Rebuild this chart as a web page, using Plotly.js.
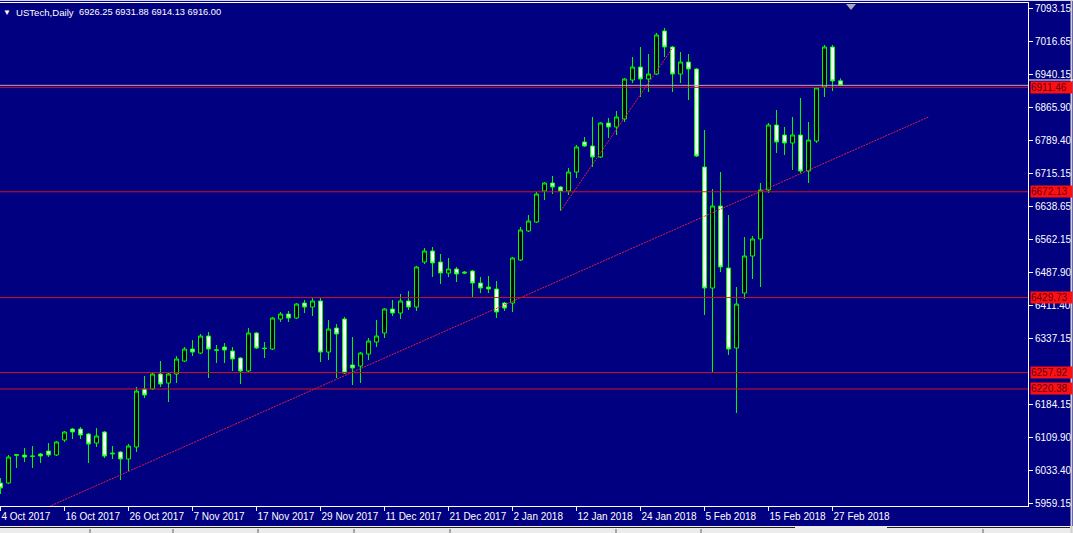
<!DOCTYPE html>
<html><head><meta charset="utf-8">
<script src="https://cdn.plot.ly/plotly-3.0.1.min.js"></script>
<style>html,body{margin:0;padding:0;background:#000080;overflow:hidden}</style>
</head><body><div id="chart" style="width:1073px;height:533px"></div>
<script>
const symbolTitle = 'USTech,Daily';
const lastQuote = ['6926.25', '6931.88', '6914.13', '6916.00'];

const dates = [
 '4 Oct 2017','5 Oct 2017','6 Oct 2017','9 Oct 2017','10 Oct 2017','11 Oct 2017','12 Oct 2017','13 Oct 2017',
 '16 Oct 2017','17 Oct 2017','18 Oct 2017','19 Oct 2017','20 Oct 2017','23 Oct 2017','24 Oct 2017','25 Oct 2017',
 '26 Oct 2017','27 Oct 2017','30 Oct 2017','31 Oct 2017','1 Nov 2017','2 Nov 2017','3 Nov 2017','6 Nov 2017',
 '7 Nov 2017','8 Nov 2017','9 Nov 2017','10 Nov 2017','13 Nov 2017','14 Nov 2017','15 Nov 2017','16 Nov 2017',
 '17 Nov 2017','20 Nov 2017','21 Nov 2017','22 Nov 2017','23 Nov 2017','24 Nov 2017','27 Nov 2017','28 Nov 2017',
 '29 Nov 2017','30 Nov 2017','1 Dec 2017','4 Dec 2017','5 Dec 2017','6 Dec 2017','7 Dec 2017','8 Dec 2017',
 '11 Dec 2017','12 Dec 2017','13 Dec 2017','14 Dec 2017','15 Dec 2017','18 Dec 2017','19 Dec 2017','20 Dec 2017',
 '21 Dec 2017','22 Dec 2017','25 Dec 2017','26 Dec 2017','27 Dec 2017','28 Dec 2017','29 Dec 2017','1 Jan 2018',
 '2 Jan 2018','3 Jan 2018','4 Jan 2018','5 Jan 2018','8 Jan 2018','9 Jan 2018','10 Jan 2018','11 Jan 2018',
 '12 Jan 2018','15 Jan 2018','16 Jan 2018','17 Jan 2018','18 Jan 2018','19 Jan 2018','22 Jan 2018','23 Jan 2018',
 '24 Jan 2018','25 Jan 2018','26 Jan 2018','29 Jan 2018','30 Jan 2018','31 Jan 2018','1 Feb 2018','2 Feb 2018',
 '5 Feb 2018','6 Feb 2018','7 Feb 2018','8 Feb 2018','9 Feb 2018','12 Feb 2018','13 Feb 2018','14 Feb 2018',
 '15 Feb 2018','16 Feb 2018','19 Feb 2018','20 Feb 2018','21 Feb 2018','22 Feb 2018','23 Feb 2018','26 Feb 2018',
 '27 Feb 2018','28 Feb 2018'
];

const open = [
 6004.9,6004.9,6068.0,6069.1,6067.0,6071.4,6078.2,6069.1,
 6103.5,6128.6,6128.6,6117.2,6096.6,6121.8,6073.7,6076.0,
 6059.9,6087.4,6220.3,6220.3,6254.7,6234.0,6254.7,6284.4,
 6311.9,6302.7,6341.7,6310.0,6316.5,6307.3,6291.3,6261.5,
 6348.6,6314.0,6311.9,6380.6,6392.1,6382.9,6417.3,6408.1,
 6421.9,6305.0,6360.0,6380.6,6275.3,6272.9,6300.4,6327.9,
 6348.6,6403.6,6394.4,6421.9,6408.1,6511.2,6536.5,6511.2,
 6486.0,6495.2,6488.3,6490.6,6463.1,6454.0,6449.4,6417.3,
 6417.3,6515.8,6582.3,6602.9,6673.9,6692.2,6683.1,6673.9,
 6717.4,6786.2,6777.0,6751.8,6829.7,6820.5,6838.8,6928.2,
 6957.9,6930.5,6941.9,7040.5,7003.8,6941.9,6969.4,6953.4,
 6728.9,6451.7,6639.5,6497.5,6314.2,6440.2,6525.0,6564.0,
 6676.2,6825.1,6802.2,6783.9,6802.2,6719.7,6788.4,6912.2,
 7003.8,6926.25
];
const high = [
 6016.4,6069.1,6071.4,6085.1,6089.7,6073.7,6096.6,6101.2,
 6124.0,6130.9,6133.2,6119.5,6130.9,6124.1,6089.7,6078.3,
 6094.3,6224.9,6250.1,6257.0,6284.4,6256.9,6295.9,6316.5,
 6332.5,6346.3,6350.9,6321.1,6325.7,6316.5,6293.6,6360.0,
 6350.9,6327.9,6385.2,6396.7,6399.0,6417.3,6424.2,6428.7,
 6428.7,6378.3,6369.2,6385.2,6339.4,6305.0,6337.1,6378.3,
 6405.8,6424.2,6437.9,6444.8,6502.1,6543.3,6545.6,6529.6,
 6520.4,6499.8,6490.6,6492.9,6476.9,6479.2,6467.7,6419.6,
 6522.7,6591.4,6618.9,6671.6,6694.5,6708.3,6685.4,6726.6,
 6779.3,6797.6,6843.4,6832.0,6841.1,6857.2,6932.8,6980.9,
 7003.8,6987.8,7035.9,7047.3,7006.1,6992.3,6987.8,6955.7,
 6813.6,6678.5,6717.4,6618.9,6454.0,6568.5,6570.8,6692.2,
 6829.7,6859.5,6820.5,6843.4,6887.0,6832.0,6911.5,7008.4,
 7008.4,6931.88
];
const low = [
 5979.7,6002.6,6039.3,6053.0,6039.3,6050.7,6064.5,6066.8,
 6098.9,6105.7,6105.7,6050.7,6087.4,6062.2,6059.9,6011.8,
 6032.4,6076.0,6199.7,6218.0,6224.9,6190.5,6234.0,6282.1,
 6295.9,6300.4,6245.5,6279.8,6279.8,6261.5,6231.7,6259.2,
 6311.9,6291.3,6309.6,6373.8,6373.8,6380.6,6394.4,6387.5,
 6282.1,6286.7,6245.5,6254.7,6229.4,6234.0,6286.7,6316.5,
 6337.1,6387.5,6380.6,6401.3,6399.0,6506.6,6476.9,6460.8,
 6476.9,6465.4,6483.8,6431.1,6440.2,6440.2,6382.9,6399.0,
 6396.7,6513.5,6580.0,6600.6,6653.3,6667.0,6628.1,6664.7,
 6703.7,6774.7,6728.9,6749.5,6795.3,6802.2,6832.0,6921.3,
 6889.2,6900.7,6939.6,6980.9,6900.7,6921.3,6882.4,6751.8,
 6389.8,6259.2,6488.3,6298.2,6165.3,6426.5,6472.3,6454.0,
 6669.3,6760.9,6756.4,6722.0,6715.1,6692.2,6783.9,6889.2,
 6902.9,6914.13
];
const close = [
 5993.5,6064.5,6070.0,6064.5,6066.0,6066.8,6069.1,6098.9,
 6121.8,6121.8,6114.9,6094.3,6112.6,6066.8,6072.0,6059.9,
 6089.7,6215.7,6206.5,6254.7,6231.8,6254.7,6289.0,6311.9,
 6305.0,6341.7,6311.9,6309.0,6309.6,6289.0,6261.5,6348.6,
 6314.2,6313.0,6382.9,6392.1,6382.9,6415.0,6408.1,6421.9,
 6305.0,6357.7,6346.3,6257.0,6268.4,6302.7,6330.2,6341.7,
 6403.6,6394.4,6421.9,6408.1,6499.8,6536.5,6509.0,6486.0,
 6495.2,6483.8,6486.0,6463.1,6451.7,6449.4,6396.7,6405.8,
 6520.4,6584.5,6605.2,6667.0,6692.2,6683.1,6673.9,6717.4,
 6774.7,6777.0,6751.8,6829.7,6820.5,6843.4,6930.5,6957.9,
 6930.5,6941.9,7031.3,7003.8,6941.9,6969.4,6953.4,6754.1,
 6451.7,6639.5,6499.8,6311.9,6414.9,6525.0,6564.0,6676.2,
 6825.1,6786.2,6783.9,6802.2,6719.7,6790.7,6909.9,7003.8,
 6926.0,6916.00
];

const xTickLabels = ['4 Oct 2017','16 Oct 2017','26 Oct 2017','7 Nov 2017','17 Nov 2017','29 Nov 2017',
 '11 Dec 2017','21 Dec 2017','2 Jan 2018','12 Jan 2018','24 Jan 2018','5 Feb 2018','15 Feb 2018','27 Feb 2018'];
const yTickValues = [7093.15,7016.65,6940.15,6865.90,6789.40,6715.15,6638.65,6562.15,6487.90,6411.40,6337.15,6184.15,6109.90,6033.40,5959.15];
const levels = [6911.46, 6672.13, 6429.73, 6257.92, 6220.38];
const trendA_x = [5, 116];
const trendA_y = [5942.3, 6843.4];
const trendB_x = [70, 84];
const trendB_y = [6628.1, 7001.5];

// ---- layout helpers (pixels -> paper) ----
const PL = 0, PR = 1028, PT = 3, PB = 506;
const px = v => (v - PL) / (PR - PL);
const py = v => (PB - v) / (PB - PT);

const idx = dates.map((d, i) => i);
const GREEN = '#00FF00';
const FONT = 'Liberation Sans, Arial, sans-serif';
const traces = [
 {
  type: 'candlestick', x: idx, open: open, high: high, low: low, close: close,
  increasing: {line: {color: GREEN, width: 1}, fillcolor: '#000000'},
  decreasing: {line: {color: GREEN, width: 1}, fillcolor: '#FFFFFF'},
  whiskerwidth: 0, hoverinfo: 'skip', showlegend: false
 },
 {type: 'scatter', mode: 'lines', x: trendA_x, y: trendA_y, line: {color: '#e8203c', width: 1, dash: '2px,1px'}, hoverinfo: 'skip', showlegend: false},
 {type: 'scatter', mode: 'lines', x: trendB_x, y: trendB_y, line: {color: '#e8203c', width: 1, dash: '2px,1px'}, hoverinfo: 'skip', showlegend: false}
];

const shapes = [];
// bid line
shapes.push({type: 'line', xref: 'paper', x0: 0, x1: 1, yref: 'y', y0: close[close.length - 1], y1: close[close.length - 1], line: {color: '#b8a8c8', width: 1}});
levels.forEach(l => shapes.push({type: 'line', xref: 'paper', x0: 0, x1: 1, yref: 'y', y0: l, y1: l, line: {color: '#d81020', width: 1}}));
// chart shift marker
shapes.push({type: 'path', xref: 'paper', xsizemode: 'pixel', xanchor: px(851), yref: 'paper', ysizemode: 'pixel', yanchor: 1,
  path: 'M-5,-1 L5,-1 L0,-7 Z', fillcolor: '#a8a8b8', line: {width: 0}});
// window chrome
shapes.push({type: 'rect', xref: 'paper', yref: 'paper', x0: px(0), x1: px(1073), y0: py(533), y1: py(526), fillcolor: '#ececec', line: {width: 0}, layer: 'below'});
shapes.push({type: 'line', xref: 'paper', yref: 'paper', x0: px(0), x1: px(795), y0: py(527.5), y1: py(527.5), line: {color: '#202020', width: 1}});
shapes.push({type: 'line', xref: 'paper', yref: 'paper', x0: px(887), x1: px(1070), y0: py(527.5), y1: py(527.5), line: {color: '#202020', width: 1}});
[90, 173, 258, 354, 450, 616, 701, 983].forEach(v => shapes.push({type: 'line', xref: 'paper', yref: 'paper', x0: px(v), x1: px(v), y0: py(529), y1: py(533), line: {color: '#606060', width: 1}}));
shapes.push({type: 'line', xref: 'paper', yref: 'paper', x0: px(0), x1: px(1073), y0: py(0.5), y1: py(0.5), line: {color: '#d8d8e8', width: 1}});
shapes.push({type: 'line', xref: 'paper', yref: 'paper', x0: px(1071.5), x1: px(1071.5), y0: py(0), y1: py(533), line: {color: '#d0d0d0', width: 2}});
shapes.push({type: 'line', xref: 'paper', yref: 'paper', x0: px(1028), x1: px(1073), y0: py(80), y1: py(80), line: {color: '#ffffff', width: 1}});

const annotations = [];
const titleFont = {family: FONT, size: 9.6, color: '#ffffff'};
annotations.push({xref: 'paper', yref: 'paper', x: px(1), y: py(12), xanchor: 'left', yanchor: 'middle', showarrow: false,
  text: '\u25BC', font: {family: FONT, size: 8, color: '#ffffff'}});
annotations.push({xref: 'paper', yref: 'paper', x: px(14), y: py(12), xanchor: 'left', yanchor: 'middle', showarrow: false,
  text: symbolTitle, font: titleFont});
annotations.push({xref: 'paper', yref: 'paper', x: px(77), y: py(12), xanchor: 'left', yanchor: 'middle', showarrow: false,
  text: lastQuote.join(' '), font: {family: FONT, size: 9.3, color: '#ffffff'}});
levels.forEach(l => annotations.push({xref: 'paper', yref: 'y', x: px(1030), y: l, xanchor: 'left', yanchor: 'middle', showarrow: false,
  text: l.toFixed(2), bgcolor: '#ff1010', width: 41, height: 11, borderpad: 0, align: 'left',
  font: {family: FONT, size: 10, color: '#600018'}}));

const layout = {
  width: 1073, height: 533,
  margin: {l: PL, r: 1073 - PR, t: PT, b: 533 - PB, pad: 0},
  paper_bgcolor: '#000080', plot_bgcolor: '#000080',
  showlegend: false, hovermode: false, dragmode: false,
  font: {family: FONT, size: 10, color: '#ffffff'},
  xaxis: {
    type: 'linear', range: [-0.06, 128.44], rangeslider: {visible: false},
    tickvals: xTickLabels.map(t => dates.indexOf(t)), ticktext: xTickLabels,
    ticks: 'outside', ticklen: 4, tickcolor: '#ffffff', tickwidth: 1, tickangle: 0,
    ticklabelposition: 'outside right', ticklabelstandoff: 1, ticklabeloverflow: 'allow',
    showgrid: false, zeroline: false, showline: true, linecolor: '#ffffff', linewidth: 1, mirror: true,
    tickfont: {size: 10, color: '#ffffff'}, fixedrange: true
  },
  yaxis: {
    side: 'right', range: [5952.3, 7104.6], tickvals: yTickValues, ticktext: yTickValues.map(v => v.toFixed(2)),
    ticks: 'outside', ticklen: 4, tickcolor: '#ffffff', tickwidth: 1,
    showgrid: false, zeroline: false, showline: true, linecolor: '#ffffff', linewidth: 1, mirror: false,
    tickfont: {size: 10, color: '#ffffff'}, fixedrange: true
  },
  shapes: shapes,
  annotations: annotations
};

Plotly.newPlot('chart', traces, layout, {displayModeBar: false, staticPlot: true});
</script>
</body></html>
